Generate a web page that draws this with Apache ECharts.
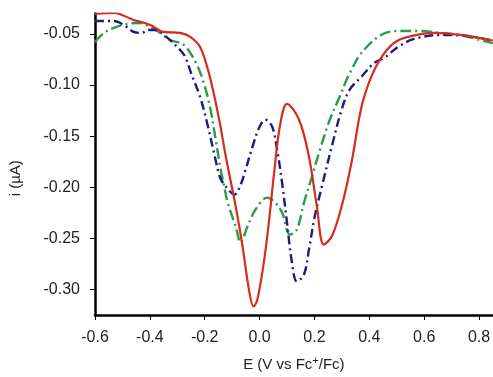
<!DOCTYPE html>
<html>
<head>
<meta charset="utf-8">
<script src="https://cdn.jsdelivr.net/npm/echarts@6/dist/echarts.min.js"></script>
<style>html,body{margin:0;padding:0;background:#fff;}#c{width:493px;height:377px;}</style>
</head>
<body>
<div id="c"></div>
<script>
const redX = [-0.600,-0.531,-0.459,-0.398,-0.351,-0.290,-0.253,-0.217,-0.188,-0.170,-0.145,-0.123,-0.087,-0.062,-0.037,-0.022,-0.008,0.017,0.035,0.053,0.075,0.100,0.144,0.180,0.209,0.234,0.263,0.299,0.335,0.364,0.378,0.407,0.443,0.490,0.541,0.635,0.732,0.841,0.850];
const redY = [-0.0305,-0.0295,-0.0363,-0.0412,-0.0480,-0.0490,-0.0529,-0.0627,-0.0852,-0.1047,-0.1369,-0.1701,-0.2189,-0.2580,-0.3029,-0.3166,-0.3098,-0.2707,-0.2316,-0.1857,-0.1389,-0.1184,-0.1340,-0.1701,-0.2189,-0.2561,-0.2482,-0.2189,-0.1760,-0.1311,-0.1145,-0.0920,-0.0734,-0.0588,-0.0529,-0.0490,-0.0510,-0.0559,-0.0565];

const blueX = [-0.600,-0.531,-0.495,-0.459,-0.430,-0.405,-0.380,-0.340,-0.290,-0.271,-0.250,-0.217,-0.188,-0.163,-0.145,-0.123,-0.091,-0.069,-0.051,-0.026,0.000,0.021,0.046,0.064,0.082,0.100,0.118,0.136,0.162,0.180,0.201,0.227,0.263,0.299,0.328,0.371,0.418,0.454,0.505,0.563,0.660,0.758,0.841,0.850];
const blueY = [-0.0373,-0.0373,-0.0412,-0.0480,-0.0490,-0.0461,-0.0461,-0.0529,-0.0656,-0.0725,-0.0881,-0.1115,-0.1408,-0.1701,-0.1897,-0.1994,-0.2072,-0.1975,-0.1828,-0.1604,-0.1408,-0.1340,-0.1408,-0.1633,-0.1955,-0.2346,-0.2736,-0.2922,-0.2854,-0.2609,-0.2287,-0.1994,-0.1604,-0.1242,-0.1047,-0.0920,-0.0783,-0.0734,-0.0627,-0.0549,-0.0510,-0.0520,-0.0559,-0.0565];

const greenX = [-0.600,-0.567,-0.531,-0.484,-0.434,-0.398,-0.362,-0.326,-0.290,-0.268,-0.232,-0.207,-0.181,-0.160,-0.142,-0.134,-0.116,-0.087,-0.069,-0.044,-0.015,0.028,0.057,0.082,0.111,0.136,0.162,0.191,0.220,0.256,0.292,0.317,0.335,0.371,0.443,0.505,0.577,0.660,0.732,0.830,0.850];
const greenY = [-0.0578,-0.0490,-0.0441,-0.0402,-0.0393,-0.0432,-0.0490,-0.0559,-0.0588,-0.0627,-0.0783,-0.0949,-0.1213,-0.1535,-0.1828,-0.1926,-0.2150,-0.2385,-0.2541,-0.2385,-0.2219,-0.2102,-0.2150,-0.2248,-0.2463,-0.2414,-0.2150,-0.1897,-0.1633,-0.1340,-0.1115,-0.0949,-0.0852,-0.0686,-0.0510,-0.0471,-0.0471,-0.0490,-0.0510,-0.0578,-0.0590];

const xTicks = [-0.6,-0.4,-0.2,0.0,0.2,0.4,0.6,0.8];
const yTicks = [-0.30,-0.25,-0.20,-0.15,-0.10,-0.05];

function pairs(xs, ys){ return xs.map((x,i)=>[x, ys[i]]); }

const chart = echarts.init(document.getElementById('c'), null, {renderer:'canvas'});
const font = 'Liberation Sans, Arial, sans-serif';
chart.setOption({
  animation:false,
  backgroundColor:'#ffffff',
  grid:{left:91, right:0, top:13.5, bottom:62, containLabel:false},
  xAxis:{
    type:'value', min:-0.6, max:0.85,
    name:'E (V vs Fc{sup|+}/Fc)', nameLocation:'middle', nameGap:40,
    nameTextStyle:{fontFamily:font, fontSize:15, color:'#222',
      rich:{sup:{fontFamily:font, fontSize:11, color:'#222', verticalAlign:'top', padding:[0,0,8,0]}}},
    axisLine:{show:true, onZero:false, lineStyle:{color:'#000', width:2.5}},
    axisTick:{show:true, inside:false, length:5, customValues:xTicks, lineStyle:{color:'#000', width:1}},
    axisLabel:{customValues:xTicks, margin:15, fontFamily:font, fontSize:16, color:'#222',
      formatter:v=>v.toFixed(1)},
    splitLine:{show:false}
  },
  yAxis:{
    type:'value', min:-0.325, max:-0.03,
    name:'i (\u00B5A)', nameLocation:'middle', nameGap:72,
    nameTextStyle:{fontFamily:font, fontSize:15, color:'#222', padding:[0,28,0,0]},
    axisLine:{show:true, onZero:false, lineStyle:{color:'#000', width:2.5}},
    axisTick:{show:true, inside:false, length:5, customValues:yTicks, lineStyle:{color:'#000', width:1}},
    axisLabel:{customValues:yTicks, margin:15, fontFamily:font, fontSize:16, color:'#222',
      formatter:v=>v.toFixed(2)},
    splitLine:{show:false}
  },
  series:[
    {type:'line', data:pairs(greenX, greenY), smooth:0.35, symbol:'none', clip:true,
      lineStyle:{color:'#2f9944', width:2.4, type:[11,4,2,4]}},
    {type:'line', data:pairs(blueX, blueY), smooth:0.35, symbol:'none', clip:true,
      lineStyle:{color:'#1d1b7f', width:2.4, type:[9,4,2,4]}},
    {type:'line', data:pairs(redX, redY), smooth:0.35, symbol:'none', clip:true,
      lineStyle:{color:'#d42c1f', width:2.2}}
  ]
});
</script>
</body>
</html>
